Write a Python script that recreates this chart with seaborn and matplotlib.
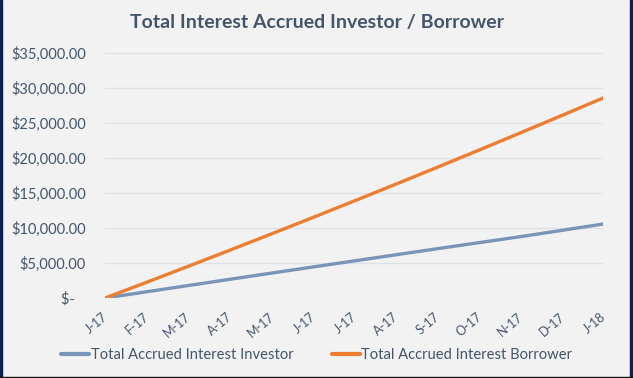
import pandas as pd
import seaborn as sns
import matplotlib.pyplot as plt
import matplotlib.transforms as mtransforms
from matplotlib.patches import Rectangle
from matplotlib.ticker import FuncFormatter

months = ['J-17', 'F-17', 'M-17', 'A-17', 'M-17', 'J-17', 'J-17',
          'A-17', 'S-17', 'O-17', 'N-17', 'D-17', 'J-18']
investor = [0, 890, 1780, 2670, 3550, 4430, 5300,
            6170, 7040, 7900, 8760, 9660, 10570]
borrower = [0, 2250, 4520, 6820, 9140, 11490, 13860,
            16250, 18670, 21110, 23580, 26070, 28580]

series_names = ['Total Accrued Interest Investor', 'Total Accrued Interest Borrower']
colors = ['#7895B8', '#ED7D31']
text_color = '#44546A'

df = pd.DataFrame({
    'idx': list(range(len(months))) * 2,
    'value': investor + borrower,
    'series': [series_names[0]] * len(months) + [series_names[1]] * len(months),
})

sns.set_style('white')
plt.rcParams['font.family'] = ['Lato', 'DejaVu Sans']

fig = plt.figure(figsize=(6.33, 3.78), dpi=100, facecolor='#F2F2F2')
ax = fig.add_axes([0.166, 0.2116, 0.787, 0.6482])
ax.set_facecolor('#F2F2F2')

sns.lineplot(data=df, x='idx', y='value', hue='series', palette=colors,
             linewidth=2.4, ax=ax, legend=True)

ax.set_xlim(0, len(months) - 1)
ax.set_ylim(0, 35000)
ax.set_yticks(range(0, 35001, 5000))
ax.yaxis.set_major_formatter(FuncFormatter(
    lambda v, p: '$-   ' if v == 0 else f'${v:,.2f}'))
ax.grid(axis='y', color='#DDE1E8', linewidth=1)
ax.set_axisbelow(True)
for s in ax.spines.values():
    s.set_visible(False)

ax.set_xticks(range(len(months)))
ax.set_xticklabels(months, rotation=40, ha='right', fontsize=9, color=text_color)
ax.tick_params(axis='y', length=0, pad=14, labelsize=10.5, labelcolor=text_color)
ax.tick_params(axis='x', length=0, pad=9)
# nudge month labels a little to the right, as in the original
shift = mtransforms.ScaledTranslation(5 / 100, 0, fig.dpi_scale_trans)
for lbl in ax.get_xticklabels():
    lbl.set_transform(lbl.get_transform() + shift)
ax.set_xlabel('')
ax.set_ylabel('')

leg = ax.legend(loc='center', bbox_to_anchor=(0.425, -0.233), ncol=2,
                frameon=False, fontsize=10.6, handlelength=1.9, handletextpad=0.1,
                columnspacing=2.6)
for t in leg.get_texts():
    t.set_color(text_color)
for l in leg.get_lines():
    l.set_linewidth(3)

fig.text(0.5, 0.94, 'Total Interest Accrued Investor / Borrower', ha='center', va='center',
         fontsize=14, fontweight='bold', color=text_color)

# dark frame on left, right and bottom
fig.patches.append(Rectangle((0, 0), 2 / 633, 1, transform=fig.transFigure, color='#0F1F4F'))
fig.patches.append(Rectangle((1 - 3 / 633, 0), 3 / 633, 1, transform=fig.transFigure, color='#0F1F4F'))
fig.patches.append(Rectangle((0, 0), 1, 1.5 / 378, transform=fig.transFigure, color='#111111'))

fig.savefig('out.png', dpi=100, facecolor=fig.get_facecolor())
